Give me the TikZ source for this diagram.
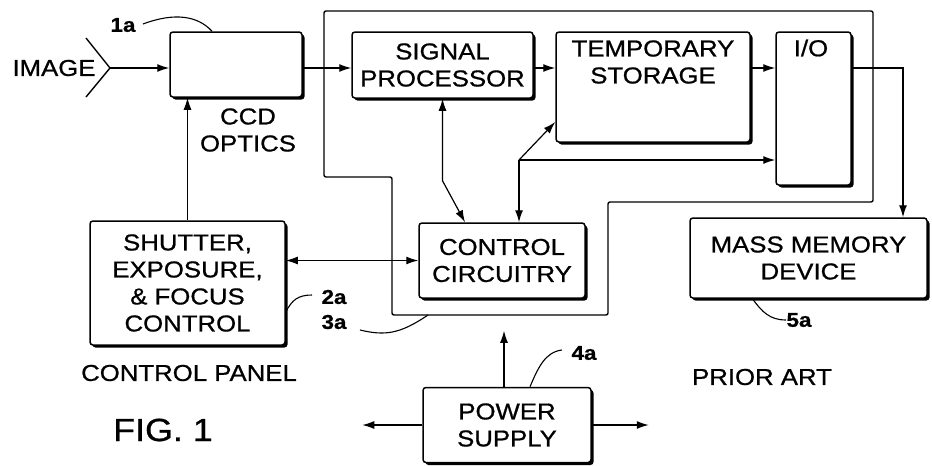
\documentclass[tikz,border=0pt]{standalone}
\usepackage{fontspec}
\setmainfont{Liberation Sans}[FakeStretch=1.12,FakeBold=0.8]
\usetikzlibrary{arrows.meta,shadows}
\begin{document}
\begin{tikzpicture}[x=1pt,y=-1pt,
  box/.style={draw, line width=1.5pt, rounded corners=3pt, fill=white, inner sep=0pt,
     drop shadow={shadow xshift=2.5pt, shadow yshift=-2.5pt, fill=black, opacity=1},
     align=center, font=\fontsize{23}{27}\selectfont},
  txt/.style={align=center, inner sep=0pt, font=\fontsize{23}{27}\selectfont},
  lbl/.style={inner sep=0pt, font=\fontsize{20}{22}\selectfont\bfseries},
  arr/.style={-{Latex[length=12pt,width=8pt]}, line width=1.2pt},
  arr2/.style={{Latex[length=12pt,width=8pt]}-{Latex[length=12pt,width=8pt]}, line width=1.2pt},
  lead/.style={line width=1.1pt},
  outline/.style={line width=1.4pt, rounded corners=2pt}
]
\useasboundingbox (0,0) rectangle (932,466);

% outer housing (3a)
\draw[outline] (324,11) -- (873,11) -- (873,202) -- (608,202) -- (608,315)
  -- (392,315) -- (392,177) -- (324,177) -- cycle;

% boxes
\node[box, minimum width=132pt, minimum height=65pt] (ccd) at (236,64.5) {};
\node[box, minimum width=181pt, minimum height=66pt] (sp) at (442.5,65) {SIGNAL\\PROCESSOR};
\node[box, minimum width=194pt, minimum height=110pt] (ts) at (653,87) {};
\node[txt] (tstext) at (653,62) {TEMPORARY\\STORAGE};
\node[box, minimum width=75pt, minimum height=153pt] (io) at (813.5,108.5) {};
\node[txt] (iotext) at (811,48) {I/O};
\node[box, minimum width=166pt, minimum height=75pt] (cc) at (502,260.5) {CONTROL\\CIRCUITRY};
\node[box, minimum width=195pt, minimum height=124pt] (sh) at (187.5,283) {SHUTTER,\\EXPOSURE,\\\& FOCUS\\CONTROL};
\node[box, minimum width=237pt, minimum height=80pt] (mmd) at (808.5,258) {MASS MEMORY\\DEVICE};
\node[box, minimum width=168pt, minimum height=75pt] (ps) at (507,425) {POWER\\SUPPLY};

% free texts
\node[txt] (image) at (54,68) {IMAGE};
\node[txt] (ccdtext) at (248,130) {CCD\\OPTICS};
\node[txt] (cpanel) at (189,373) {CONTROL PANEL};
\node[txt] (prior) at (762,377) {PRIOR ART};
\node[inner sep=0pt, font=\fontsize{32}{34}\selectfont] (fig) at (163,430) {FIG. 1};

% reference labels
\node[lbl] (l1a) at (123,25) {1a};
\node[lbl] (l2a) at (334,297) {2a};
\node[lbl] (l3a) at (334,322) {3a};
\node[lbl] (l4a) at (584,353) {4a};
\node[lbl] (l5a) at (799,320) {5a};

% image chevron
\coordinate (imgtip) at (110,68);
\coordinate (imgtop) at (86,38);
\coordinate (imgbot) at (86,97);
\draw[line width=1.4pt] (imgtop) -- (imgtip) -- (imgbot);
\draw[arr] (imgtip) -- (imgtip -| ccd.west);

% signal path
\draw[arr] (ccd.east |- imgtip) -- (imgtip -| sp.west);
\draw[arr] (sp.east |- imgtip) -- (imgtip -| ts.west);
\draw[arr] (ts.east |- imgtip) -- (imgtip -| io.west);
\draw[arr] (io.east |- imgtip) -| ([xshift=94.5pt]mmd.north);

% control panel to CCD
\draw[arr] (sh.north) -- (sh.north |- ccd.south);
% control panel <-> control circuitry
\draw[arr2] (sh.east |- cc.west) -- (cc.west);
% signal processor <-> control circuitry
\draw[arr2] (sp.south) -- ([yshift=-82pt]sp.south) -- ([xshift=-37pt]cc.north);

% junction from control circuitry
\coordinate (J) at (519,160);
\draw[arr] (J) -- ([yshift=-35pt]ts.west);
\draw[arr] (J) -- (J -| io.west);
\draw[arr] (J) -- (J |- cc.north);

% power supply
\draw[arr] ([xshift=-3pt]ps.north) -- ++(0,-56);
\draw[arr] (ps.west) -- ++(-60,0);
\draw[arr] (ps.east) -- ++(57,0);

% leaders
\draw[lead] (143,24) .. controls (175,12) and (198,16) .. ([xshift=-24pt]ccd.north);
\draw[lead] ([yshift=-29pt]sh.east) .. controls (292,300) and (298,295) .. (312,295);
\draw[lead] (360,330) .. controls (385,336) and (400,334) .. (428,315);
\draw[lead] (562,350) .. controls (545,352) and (538,368) .. ([xshift=23pt]ps.north);
\draw[lead] ([xshift=-56pt]mmd.south) .. controls (762,312) and (770,320) .. (786,320);
\end{tikzpicture}
\end{document}
